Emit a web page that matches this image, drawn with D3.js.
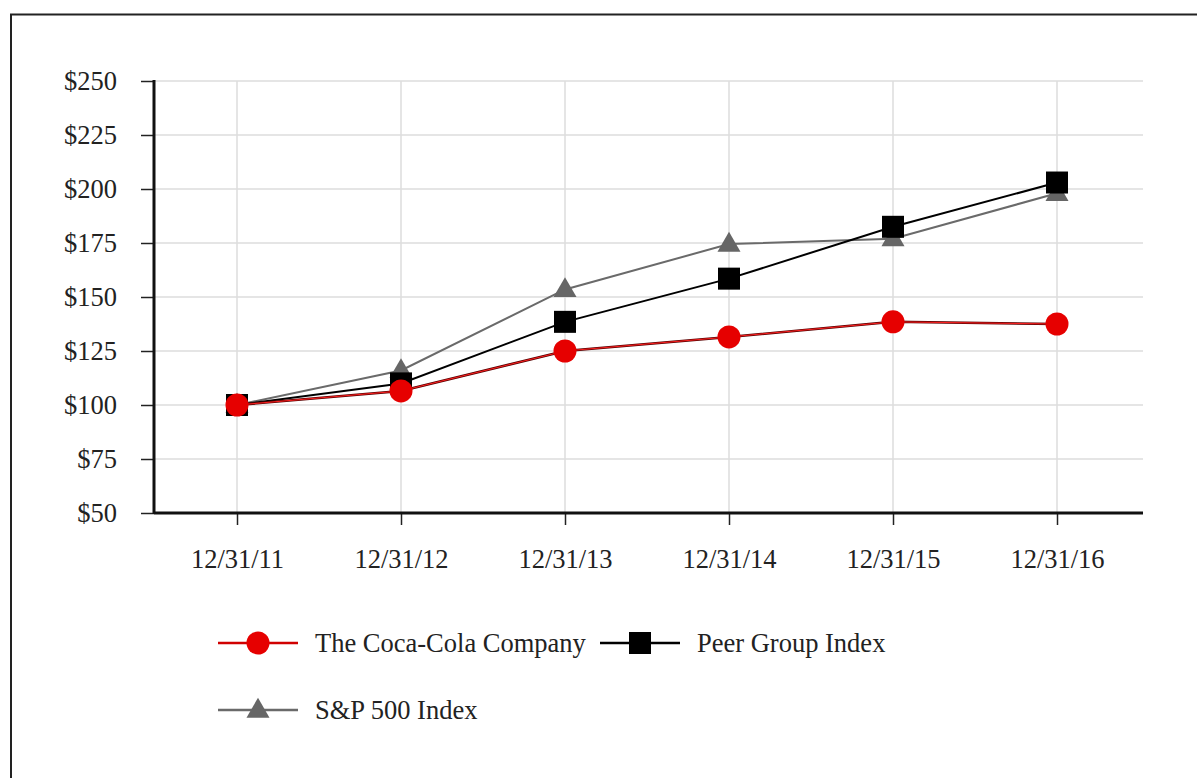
<!DOCTYPE html>
<html>
<head>
<meta charset="utf-8">
<script src="https://cdn.jsdelivr.net/npm/d3@7"></script>
<style>
  html, body { margin: 0; padding: 0; background: #fff; }
  svg text { font-family: "Liberation Serif", "Times New Roman", serif; fill: #222; }
</style>
</head>
<body>
<div id="chart"></div>
<script>
(function () {

    var dates = ["12/31/11", "12/31/12", "12/31/13", "12/31/14", "12/31/15", "12/31/16"];
    var cocaCola = [100, 106.5, 125, 131.5, 138.5, 137.5];
    var peerGroup = [100, 110, 138.5, 158.5, 182.5, 203];
    var sp500 = [100, 116, 153.5, 174.5, 177, 198];
    var yTicks = [50, 75, 100, 125, 150, 175, 200, 225, 250];

    var width = 1197,
        height = 778;

    var svg = d3.select("#chart").append("svg")
        .attr("width", width)
        .attr("height", height);

    // outer frame (only top and left edges are inside the picture)
    svg.append("path")
        .attr("d", "M11,800 L11,14.5 L1200,14.5")
        .style("fill", "none")
        .style("stroke", "#222")
        .style("stroke-width", "2px");

    var x = d3.scalePoint().domain(dates).range([237, 1057]);
    var y = d3.scaleLinear().domain([50, 250]).range([513, 81]);
    var left = 154, right = 1143;

    // grid
    svg.append("g").selectAll("line.h")
        .data(yTicks.slice(1))
        .enter().append("line")
        .attr("x1", left).attr("x2", right)
        .attr("y1", function (d) { return y(d); })
        .attr("y2", function (d) { return y(d); })
        .style("stroke", "#dcdcdc")
        .style("stroke-width", "1.5px");

    svg.append("g").selectAll("line.v")
        .data(dates)
        .enter().append("line")
        .attr("x1", function (d) { return x(d); })
        .attr("x2", function (d) { return x(d); })
        .attr("y1", y(250)).attr("y2", y(50))
        .style("stroke", "#dcdcdc")
        .style("stroke-width", "1.5px");

    // y axis
    var yAxis = svg.append("g")
        .attr("transform", "translate(" + left + ",0)")
        .call(d3.axisLeft(y).tickValues(yTicks).tickSize(13).tickPadding(24)
            .tickFormat(function (d) { return "$" + d; }));
    yAxis.select(".domain").remove();
    yAxis.selectAll(".tick line").style("stroke", "#222").style("stroke-width", "1.5px");
    yAxis.selectAll("text").style("font-size", "26.5px").attr("fill", "#333");
    yAxis.append("line")
        .attr("x1", 0).attr("x2", 0)
        .attr("y1", y(250) - 1).attr("y2", y(50) + 1)
        .style("stroke", "#111").style("stroke-width", "3px");

    // x axis
    var xAxis = svg.append("g")
        .attr("transform", "translate(0," + y(50) + ")")
        .call(d3.axisBottom(x).tickSize(12).tickPadding(24));
    xAxis.select(".domain").remove();
    xAxis.selectAll(".tick line").style("stroke", "#222").style("stroke-width", "1.5px");
    xAxis.selectAll("text").style("font-size", "26.5px").attr("fill", "#333");
    xAxis.append("line")
        .attr("x1", left).attr("x2", right)
        .attr("y1", 0).attr("y2", 0)
        .style("stroke", "#111").style("stroke-width", "3px");

    var series = [
        { name: "S&P 500 Index", values: sp500, color: "#6a6a6a", marker: "triangle" },
        { name: "Peer Group Index", values: peerGroup, color: "#000", marker: "square" },
        { name: "The Coca-Cola Company", values: cocaCola, color: "#e60000", marker: "circle" }
    ];

    var line = d3.line()
        .x(function (d, i) { return x(dates[i]); })
        .y(function (d) { return y(d); });

    function drawMarker(g, type, cx, cy) {
        if (type === "circle") {
            g.append("circle").attr("cx", cx).attr("cy", cy).attr("r", 11.5)
                .style("fill", "#e60000");
        } else if (type === "square") {
            g.append("rect").attr("x", cx - 11).attr("y", cy - 11)
                .attr("width", 22).attr("height", 22).style("fill", "#000");
        } else {
            g.append("path")
                .attr("d", d3.symbol().type(d3.symbolTriangle).size(230)())
                .attr("transform", "translate(" + cx + "," + (cy + 1) + ")")
                .style("fill", "#666");
        }
    }

    series.forEach(function (s) {
        var g = svg.append("g");
        if (s.marker === "circle") {
            g.append("path").datum(s.values).attr("d", line)
                .style("fill", "none").style("stroke", "#5a0000").style("stroke-width", "2.5px");
            g.append("path").datum(s.values).attr("d", line)
                .style("fill", "none").style("stroke", "#ff2020").style("stroke-width", "1px");
        } else {
            g.append("path").datum(s.values).attr("d", line)
                .style("fill", "none").style("stroke", s.color).style("stroke-width", "2px");
        }
        s.values.forEach(function (v, i) {
            drawMarker(g, s.marker, x(dates[i]), y(v));
        });
    });

    // legend
    var legendItems = [
        { s: series[2], lx: 218, ly: 643 },
        { s: series[1], lx: 600, ly: 643 },
        { s: series[0], lx: 218, ly: 710 }
    ];
    legendItems.forEach(function (it) {
        var g = svg.append("g");
        if (it.s.marker === "circle") {
            g.append("line").attr("x1", it.lx).attr("x2", it.lx + 80)
                .attr("y1", it.ly).attr("y2", it.ly)
                .style("stroke", "#d00000").style("stroke-width", "2.5px");
        } else {
            g.append("line").attr("x1", it.lx).attr("x2", it.lx + 80)
                .attr("y1", it.ly).attr("y2", it.ly)
                .style("stroke", it.s.color).style("stroke-width", "2.5px");
        }
        drawMarker(g, it.s.marker, it.lx + 40, it.ly);
        g.append("text")
            .attr("x", it.lx + 97).attr("y", it.ly + 9)
            .style("font-size", "26.5px")
            .attr("fill", "#222")
            .text(it.s.name);
    });

}());
</script>
</body>
</html>
